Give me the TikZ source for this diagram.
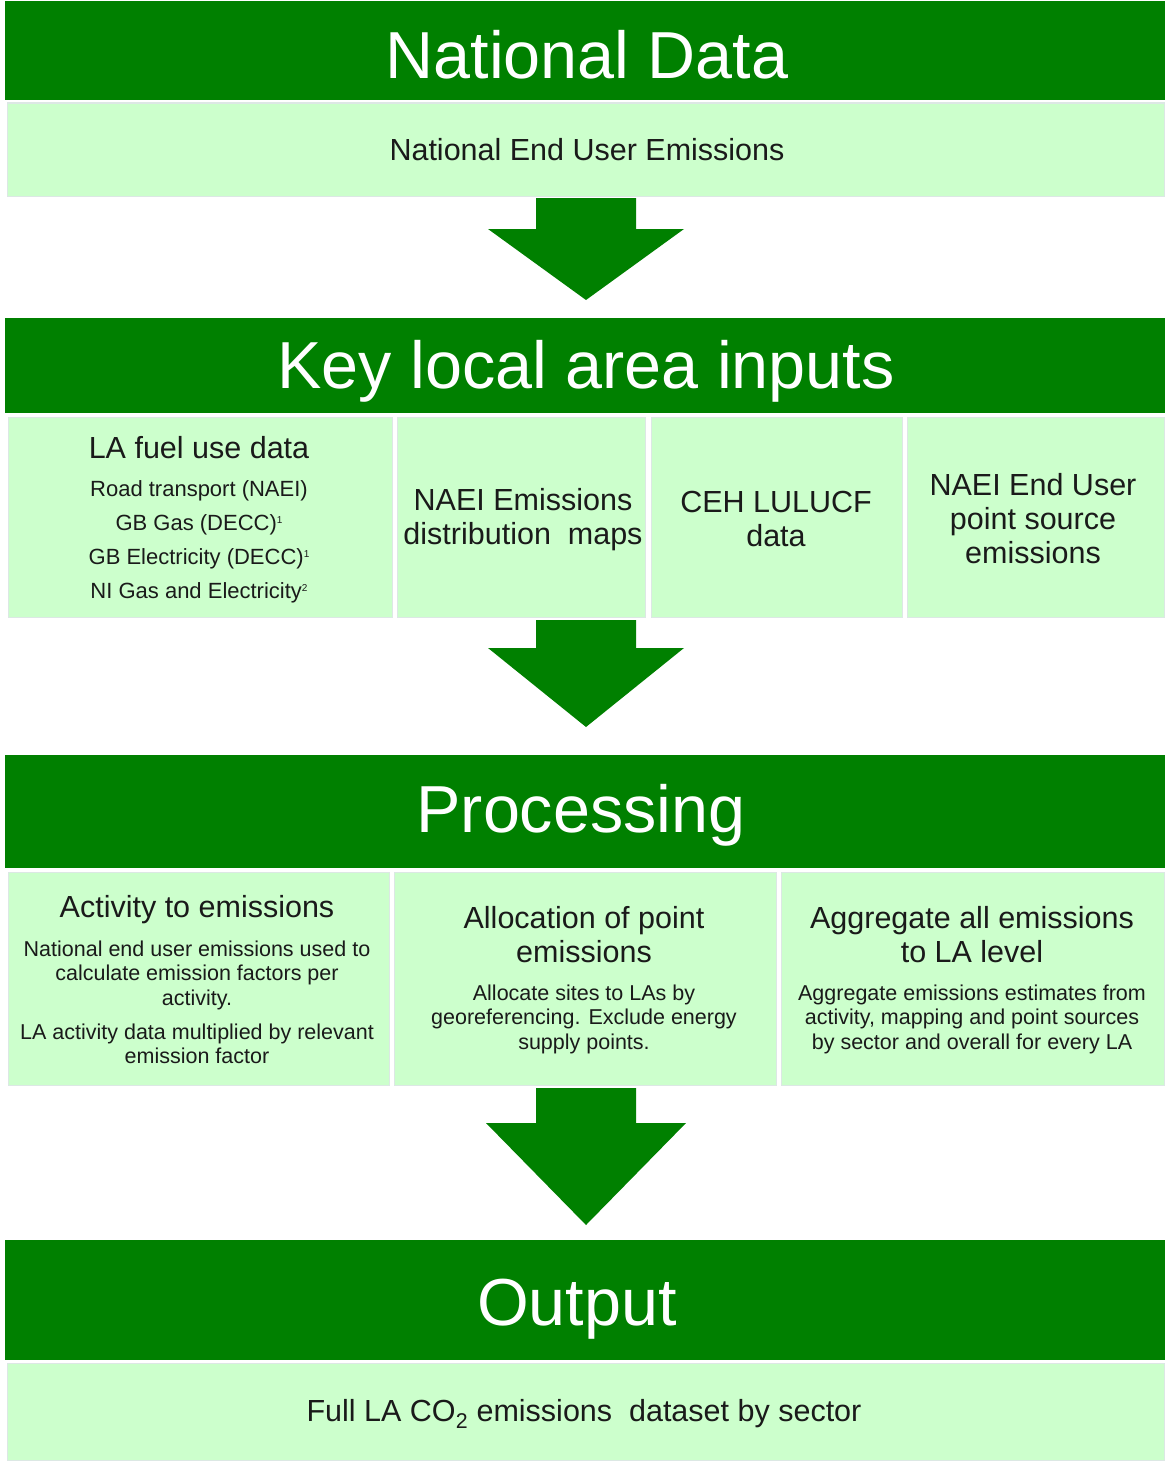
\documentclass[tikz,border=0pt]{standalone}
\usepackage{fontspec}
\setmainfont{Liberation Sans}
\definecolor{dgreen}{HTML}{008000}
\definecolor{lgreen}{HTML}{CCFFCC}
\definecolor{cellline}{HTML}{DCE8E4}
\definecolor{txt}{HTML}{1A1A1A}
\newcommand{\supnum}[1]{\raisebox{7pt}{\fontsize{10}{10}\selectfont #1}}
\begin{document}
\begin{tikzpicture}[x=1pt,y=-1pt,
  hdr/.style={fill=dgreen, anchor=north west, inner sep=0pt, minimum width=1160pt},
  cell/.style={fill=lgreen, draw=cellline, line width=1.5pt, anchor=north west, inner sep=0pt},
  htext/.style={text=white, font=\fontsize{66.5}{70}\selectfont, anchor=base, inner sep=0pt},
  btext/.style={text=txt, font=\fontsize{30.5}{34}\selectfont, align=center, inner sep=0pt},
  stext/.style={text=txt, font=\fontsize{22}{34}\selectfont, align=center, inner sep=0pt},
  ptext/.style={text=txt, font=\fontsize{21.5}{24.5}\selectfont, align=center, inner sep=0pt},
  blockarrow/.style={fill=dgreen}]
\useasboundingbox[fill=white] (0,0) rectangle (1165,1461);

% ---------- National Data ----------
\node[hdr, minimum height=99pt] (h1) at (5,1) {};
\node[cell, minimum width=1157pt, minimum height=93pt] (l1) at (6.5,102.5) {};
\node[htext] (t1) at (587,79) {National Data};
\node[btext] (n1) at (587,150) {National End User Emissions};

% arrow 1
\fill[blockarrow] (536,198) -- (636,198) -- (636,229) -- (684,229) -- (586,300) -- (488,229) -- (536,229) -- cycle;

% ---------- Key local area inputs ----------
\node[hdr, minimum height=95pt] (h2) at (5,318) {};
\node[htext] (t2) at (586,388) {Key local area inputs};
\node[cell, minimum width=384pt, minimum height=200pt] (ca) at (7.5,416.5) {};
\node[cell, minimum width=248pt, minimum height=200pt] (cb) at (396.5,416.5) {};
\node[cell, minimum width=251pt, minimum height=200pt] (cc) at (650.5,416.5) {};
\node[cell, minimum width=257pt, minimum height=200pt] (cd) at (906.5,416.5) {};

\node[btext] (ca1) at (199,448) {LA fuel use data};
\node[stext] (ca2) at (199,542) {Road transport (NAEI)\\GB Gas (DECC)\supnum{1}\\GB Electricity (DECC)\supnum{1}\\NI Gas and Electricity\supnum{2}};
\node[btext] (cb1) at (523,520) {NAEI Emissions\\distribution\ \ maps};
\node[btext] (cc1) at (776,519) {CEH LULUCF\\data};
\node[btext] (cd1) at (1033,519) {NAEI End User\\point source\\emissions};

% arrow 2
\fill[blockarrow] (536,620) -- (636,620) -- (636,648) -- (684,648) -- (586,727) -- (488,648) -- (536,648) -- cycle;

% ---------- Processing ----------
\node[hdr, minimum height=113pt] (h3) at (5,755) {};
\node[htext] (t3) at (581,832) {Processing};
\node[cell, minimum width=381pt, minimum height=213pt] (pa) at (7.5,871.5) {};
\node[cell, minimum width=382pt, minimum height=213pt] (pb) at (393.5,871.5) {};
\node[cell, minimum width=383pt, minimum height=213pt] (pc) at (780.5,871.5) {};

\node[btext] (pa1) at (197,910) {Activity to emissions};
\node[ptext] (pa2) at (197,975) {National end user emissions used to\\calculate emission factors per\\activity.};
\node[ptext] (pa3) at (197,1044) {LA activity data multiplied by relevant\\emission factor};
\node[btext] (pb1) at (584,935) {Allocation of point\\emissions};
\node[ptext] (pb2) at (584,1019) {Allocate sites to LAs by\\georeferencing. Exclude energy\\supply points.};
\node[btext] (pc1) at (972,935) {Aggregate all emissions\\to LA level};
\node[ptext] (pc2) at (972,1019) {Aggregate emissions estimates from\\activity, mapping and point sources\\by sector and overall for every LA};

% arrow 3
\fill[blockarrow] (536,1088) -- (636,1088) -- (636,1123) -- (686,1123) -- (586,1225) -- (486,1123) -- (536,1123) -- cycle;

% ---------- Output ----------
\node[hdr, minimum height=120pt] (h4) at (5,1240) {};
\node[htext] (t4) at (577,1325) {Output};
\node[cell, minimum width=1157pt, minimum height=97pt] (l4) at (6.5,1362.5) {};
\node[btext] (o1) at (584,1414) {Full LA CO\textsubscript{2} emissions\ \ dataset by sector};
\end{tikzpicture}
\end{document}
